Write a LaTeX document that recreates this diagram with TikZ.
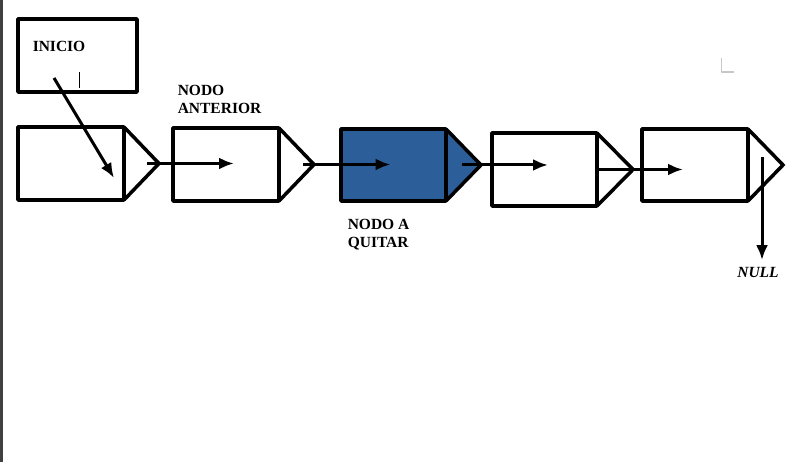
\documentclass[tikz,border=0pt]{standalone}
\usepackage{fontspec}
\setmainfont{Liberation Serif}
\usetikzlibrary{positioning,arrows.meta}
\definecolor{quitarblue}{RGB}{44,94,153}

\begin{document}
\begin{tikzpicture}[x=1pt,y=1pt,line width=3.5pt,line join=round,>={Latex[length=15pt,width=12pt]},
  nodo/.style={draw,rectangle,minimum width=106pt,minimum height=73pt,inner sep=0pt,outer sep=0pt},
  punta/.style={line join=miter},
  flecha/.style={->,line width=3pt},
  etiqueta/.style={font=\fontsize{15.5}{18}\selectfont\bfseries,align=left,inner sep=0pt}]
\useasboundingbox (0,0) rectangle (791,462);
\fill[black!75] (0,0) rectangle (2.5,462);
\draw[line width=1.3pt,black!22] (721.5,404) -- (721.5,390) -- (734,390);

\node[nodo,minimum width=119pt] (inicio) at (77.5,406.5) {};
\node[etiqueta,below right=20pt and 13pt of inicio.north west] (tinicio) {INICIO};
\draw[line width=0.8pt] (79,390) -- (79,374);

\node[nodo] (n1) at (71,298.5) {};
\node[nodo] (n2) at (226,297.5) {};
\node[nodo,fill=quitarblue,minimum width=105pt,minimum height=72pt] (n3) at (393.5,297) {};
\node[nodo,minimum width=105pt] (n4) at (544.5,292.5) {};
\node[nodo,minimum height=72pt] (n5) at (695,297) {};

\draw[punta] (n1.north east) -- ++(35,-36.5) -- (n1.south east);
\draw[punta] (n2.north east) -- ++(35,-36.5) -- (n2.south east);
\fill[quitarblue] (n3.north east) -- ++(35,-36) -- (n3.south east) -- cycle;
\draw[punta] (n3.north east) -- ++(35,-36) -- (n3.south east);
\draw (n3.north east) -- (n3.south east);
\draw[punta] (n4.north east) -- ++(36,-36.5) -- (n4.south east);
\draw[punta] (n5.north east) -- ++(35,-36) -- (n5.south east);

\node[etiqueta,above right=13pt and 3pt of n2.north west] (anterior) {NODO\\ANTERIOR};
\node[etiqueta,below right=16pt and 5pt of n3.south west] (quitar) {NODO A\\QUITAR};
\node[etiqueta,font=\fontsize{15.5}{18}\selectfont\bfseries\itshape,inner sep=6pt] (null) at (758,189) {NULL};

\coordinate (e5) at (683,292.5);

\draw[flecha] ([xshift=36pt,yshift=14pt]inicio.south west) -- ([xshift=-10pt,yshift=-14.5pt]n1.east);
\draw[flecha] ([xshift=23pt]n1.east) coordinate (s1) -- ([xshift=8pt]s1 -| n2.center);
\draw[flecha] ([xshift=24pt]n2.east) coordinate (s2) -- ([xshift=-3pt]s2 -| n3.center);
\draw[flecha] ([xshift=16pt]n3.east) coordinate (s3) -- ([xshift=3.5pt]s3 -| n4.center);
\draw[flecha] (n4.east) -- (e5);
\draw[flecha] ([xshift=14pt,yshift=8pt]n5.east) coordinate (s5) -- (s5 |- null.north);
\end{tikzpicture}
\end{document}
